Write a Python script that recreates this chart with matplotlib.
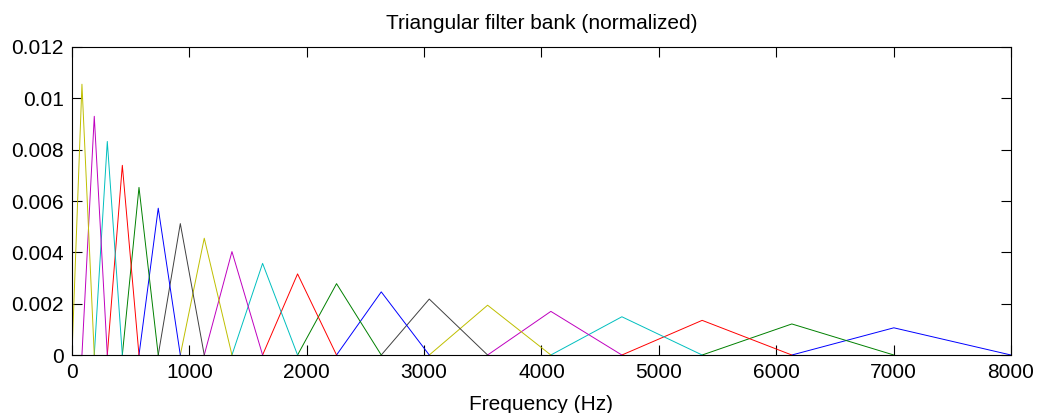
import matplotlib
matplotlib.use('Agg')
import matplotlib.pyplot as plt
import numpy as np

# filter edge / centre frequencies (Hz)
centres = [0, 85, 190, 301, 429, 571, 735, 923, 1127, 1363, 1624,
           1922, 2254, 2635, 3044, 3541, 4080, 4685, 5369, 6133, 7002, 8000]
# peak height of each of the 20 filters
peaks = [0.01055, 0.0093, 0.00832, 0.00739, 0.00653, 0.00572, 0.00512,
         0.00455, 0.00403, 0.00357, 0.00316, 0.00278, 0.00246, 0.00218,
         0.00194, 0.0017, 0.00149, 0.00135, 0.00121, 0.00106]

yticks = [0, 0.002, 0.004, 0.006, 0.008, 0.01, 0.012]
ytick_labels = ['0', '0.002', '0.004', '0.006', '0.008', '0.01', '0.012']
xticks = [0, 1000, 2000, 3000, 4000, 5000, 6000, 7000, 8000]

# matlab's old default color order
colors = [(0, 0, 1), (0, 0.5, 0), (1, 0, 0), (0, 0.75, 0.75),
          (0.75, 0, 0.75), (0.75, 0.75, 0), (0.25, 0.25, 0.25)]

plt.rcParams['font.family'] = ['Liberation Sans', 'DejaVu Sans']
plt.rcParams['font.size'] = 15

fig = plt.figure(figsize=(10.37, 4.13), dpi=100)
ax = fig.add_axes([0.0694, 0.1404, 0.9055, 0.7458])

n = len(peaks)
# drawn from the top filter down, like the original
for k, i in enumerate(range(n - 1, -1, -1)):
    xs = [centres[i], centres[i + 1], centres[i + 2]]
    ys = [0, peaks[i], 0]
    ax.plot(xs, ys, color=colors[k % 7], lw=0.7)

ax.set_xlim(0, 8000)
ax.set_ylim(0, 0.012)
ax.set_xticks(xticks)
ax.set_xticklabels([str(t) for t in xticks])
ax.set_yticks(yticks)
ax.set_yticklabels(ytick_labels)
ax.tick_params(direction='in', length=7, width=0.8, top=True, right=True,
               pad=6, labelsize=15)
for s in ax.spines.values():
    s.set_linewidth(0.8)

ax.set_title('Triangular filter bank (normalized)', fontsize=15, pad=13)
ax.set_xlabel('Frequency (Hz)', fontsize=15, labelpad=9)

fig.savefig('out.png', dpi=100)
